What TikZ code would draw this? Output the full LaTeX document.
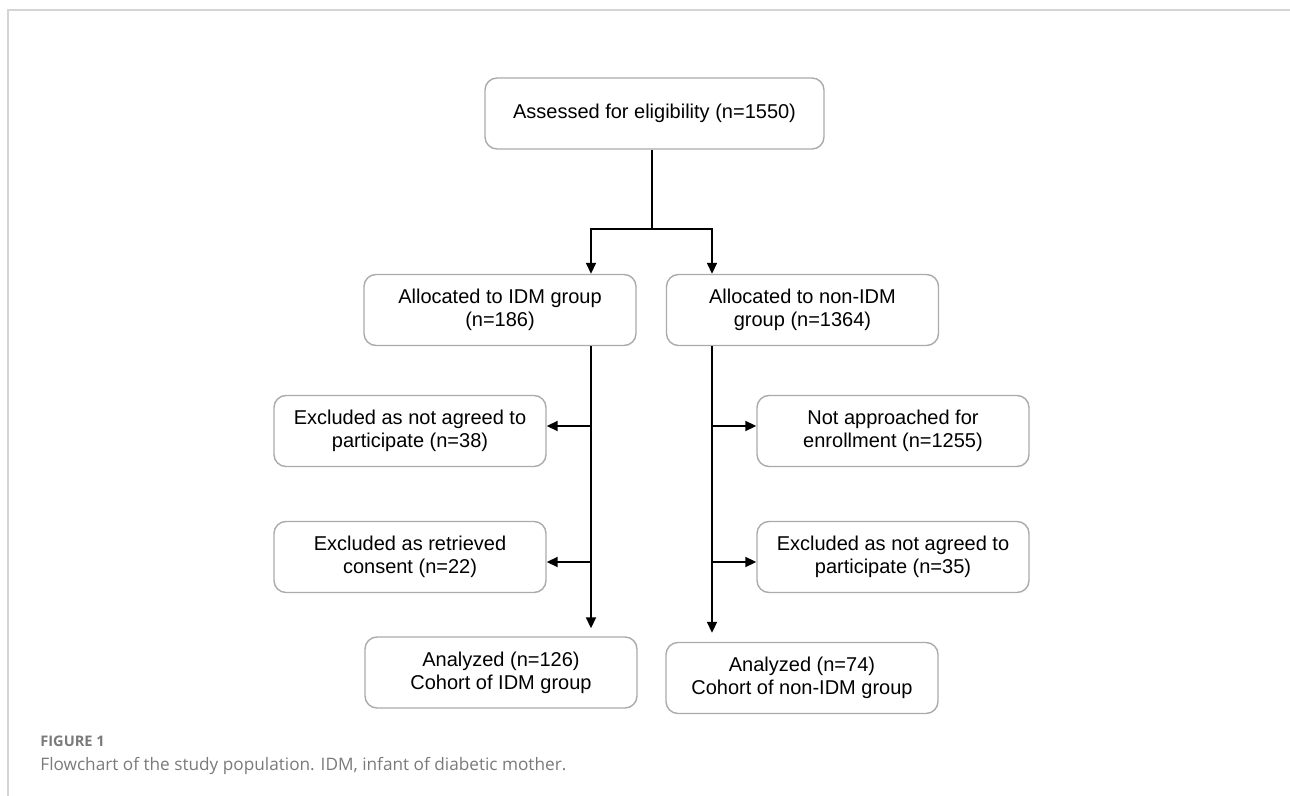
\documentclass[tikz,border=0pt]{standalone}
\usepackage{fontspec}
\setmainfont{Liberation Sans}
\newfontfamily\capfont{Open Sans}
\usetikzlibrary{arrows.meta, positioning}

\definecolor{boxgray}{HTML}{ABABAB}
\definecolor{framegray}{HTML}{D4D4D4}
\definecolor{capgray}{HTML}{7A7A7A}

\begin{document}
\begin{tikzpicture}[x=0.5pt, y=-0.5pt,
    box/.style={draw=boxgray, line width=0.7pt, rounded corners=6pt,
      minimum width=136pt, minimum height=35.5pt, inner sep=0pt,
      align=center, font=\fontsize{10}{11.5}\selectfont},
    arr/.style={line width=0.9pt, -{Triangle[length=5.5pt, width=5pt]}}]
  \useasboundingbox (0,0) rectangle (1290,796);
  % page frame
  \draw[framegray, line width=0.75pt] (8,796) -- (8,10) -- (1290,10);

  % boxes
  \node[box, minimum width=169.5pt] (assess) at (654.5,113.5)
    {Assessed for eligibility (n=1550)};
  \node[box] (allocL) at (500,310) {Allocated to IDM group\\(n=186)};
  \node[box] (allocR) at (802.5,310) {Allocated to non-IDM\\group (n=1364)};
  \node[box] (exclL1) at (410,431) {Excluded as not agreed to\\participate (n=38)};
  \node[box] (exclL2) at (410,557) {Excluded as retrieved\\consent (n=22)};
  \node[box] (exclR1) at (893,431) {Not approached for\\enrollment (n=1255)};
  \node[box] (exclR2) at (893,557) {Excluded as not agreed to\\participate (n=35)};
  \node[box] (anaL) at (501,672.5) {Analyzed (n=126)\\Cohort of IDM group};
  \node[box] (anaR) at (802,678) {Analyzed (n=74)\\Cohort of non-IDM group};

  % trunks
  \coordinate (split) at (652,229);
  \coordinate (lx) at (591,0);
  \coordinate (rx) at (712,0);
  \draw[line width=0.9pt] (split |- assess.south) -- (split);
  \draw[arr] (split) -| (lx |- allocL.north);
  \draw[arr] (split) -| (rx |- allocR.north);
  \draw[arr, shorten >=4pt] (lx |- allocL.south) -- (lx |- anaL.north);
  \draw[arr, shorten >=4.5pt] (rx |- allocR.south) -- (rx |- anaR.north);

  % exclusions
  \draw[arr] (lx |- exclL1.east) ++(0,-5) -- ([yshift=2.5pt]exclL1.east);
  \draw[arr] (lx |- exclL2.east) ++(0,5) -- ([yshift=-2.5pt]exclL2.east);
  \draw[arr] (rx |- exclR1.west) ++(0,-5) -- ([yshift=2.5pt]exclR1.west);
  \draw[arr] (rx |- exclR2.west) ++(0,5) -- ([yshift=-2.5pt]exclR2.west);

  % caption
  \node[anchor=west, inner sep=0pt, text=capgray, font=\capfont\bfseries\fontsize{7.3}{9}\selectfont]
    (figno) at (40,741) {FIGURE 1};
  \node[anchor=west, inner sep=0pt, text=capgray, font=\capfont\fontsize{8.6}{10}\selectfont]
    (figcap) at (40,766) {Flowchart of the study population. IDM, infant of diabetic mother.};
\end{tikzpicture}
\end{document}
